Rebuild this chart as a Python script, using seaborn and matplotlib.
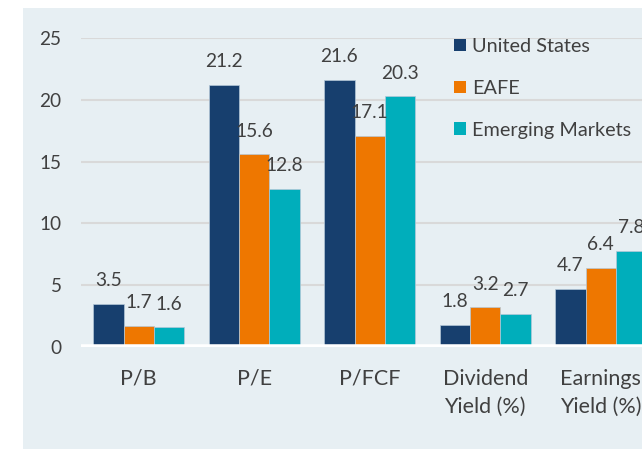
"""Valuation multiples by region: grouped bar chart."""

import matplotlib
matplotlib.use("Agg")
import matplotlib.pyplot as plt
from matplotlib.patches import Patch, Rectangle
import pandas as pd
import seaborn as sns

# data
categories = ["P/B", "P/E", "P/FCF", "Dividend\nYield (%)", "Earnings\nYield (%)"]
regions = ["United States", "EAFE", "Emerging Markets"]
us_values = [3.5, 21.2, 21.6, 1.8, 4.7]
eafe_values = [1.7, 15.6, 17.1, 3.2, 6.4]
em_values = [1.6, 12.8, 20.3, 2.7, 7.8]
y_ticks = [0, 5, 10, 15, 20, 25]

colors = ["#173F6E", "#EE7700", "#00AEBB"]
text_color = "#404040"
panel_color = "#E7EFF3"

df = pd.DataFrame({
    "metric": categories * 3,
    "region": [r for r in regions for _ in categories],
    "value": us_values + eafe_values + em_values,
})

sns.set_theme(style="white")
plt.rcParams["font.family"] = ["Lato", "DejaVu Sans"]

W, H = 642, 449
fig = plt.figure(figsize=(W / 100, H / 100), dpi=100)
fig.patch.set_facecolor("white")
# light panel behind the chart
fig.patches.append(Rectangle((23 / W, 0), 1 - 23 / W, 1 - 8 / H,
                             transform=fig.transFigure, facecolor=panel_color,
                             edgecolor="none", zorder=-10))

# axes run past the right edge, as in the original (last group is clipped)
left, right = 81, 658.5
bottom, top = 347, 38
ax = fig.add_axes([left / W, 1 - bottom / H, (right - left) / W, (bottom - top) / H])
ax.set_facecolor("none")
ax.set_zorder(2)

sns.barplot(data=df, x="metric", y="value", hue="region", palette=colors,
            width=0.79, saturation=1, ax=ax, legend=False, zorder=3,
            edgecolor="#B4C8D8", linewidth=0.5)

for cont in ax.containers:
    ax.bar_label(cont, fmt="%.1f", padding=10.5, fontsize=13.8, color=text_color)

ax.set_xlim(-0.5, 4.5)
ax.set_ylim(0, 25)
ax.set_yticks(y_ticks)
for y in y_ticks[1:]:
    ax.axhline(y, color="#D9D9D9", lw=1.5, zorder=1)
ax.axhline(0, color="white", lw=4, zorder=4)

ax.set_xlabel("")
ax.set_ylabel("")
ax.tick_params(axis="y", length=0, pad=14, labelsize=13.7, labelcolor=text_color)
ax.tick_params(axis="x", length=0, pad=15.5, labelsize=15.5, labelcolor=text_color)
for lbl in ax.get_xticklabels():
    lbl.set_linespacing(1.5)
sns.despine(ax=ax, left=True, bottom=True)

handles = [Patch(facecolor=c, edgecolor="none") for c in colors]
leg = fig.legend(handles, regions, loc="upper left",
                 bbox_to_anchor=(454 / W, 1 - 38 / H), bbox_transform=fig.transFigure,
                 frameon=False, fontsize=14.3, labelcolor=text_color,
                 handlelength=0.6, handleheight=0.6, handletextpad=0.3,
                 labelspacing=1.25, borderpad=0, borderaxespad=0)
leg.set_zorder(5)

fig.savefig("out.png", dpi=100)
